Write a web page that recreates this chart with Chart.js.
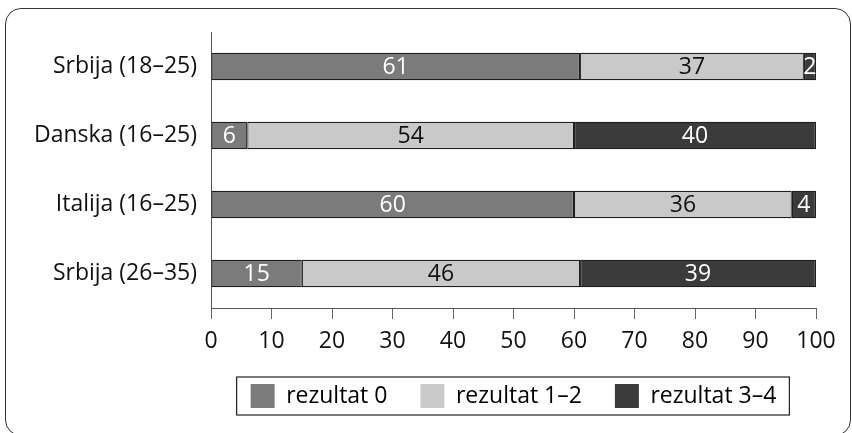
<!DOCTYPE html>
<html>
<head>
<meta charset="utf-8">
<script src="https://cdn.jsdelivr.net/npm/chart.js@4.4.0/dist/chart.umd.min.js"></script>
<style>
  html, body { margin: 0; padding: 0; background: #fff; overflow: hidden; }
  #wrap { position: relative; width: 852px; height: 433px; }
  #frame {
    position: absolute; left: 5px; top: 8px; width: 846px; height: 428px;
    border: 1.5px solid #333; border-radius: 16px; box-sizing: border-box;
  }
  canvas { position: absolute; left: 0; top: 0; }
</style>
</head>
<body>
<div id="wrap">
  <div id="frame"></div>
  <canvas id="myChart" width="852" height="433"></canvas>
</div>
<script>
// categories and series (percentages)
const categories = ["Srbija (18–25)", "Danska (16–25)", "Italija (16–25)", "Srbija (26–35)"];
const rezultat0 = [61, 6, 60, 15];
const rezultat12 = [37, 54, 36, 46];
const rezultat34 = [2, 40, 4, 39];
const seriesNames = ["rezultat 0", "rezultat 1–2", "rezultat 3–4"];
const xTicks = [0, 10, 20, 30, 40, 50, 60, 70, 80, 90, 100];

const fillColors = ["#7b7b7b", "#c9c9c9", "#3b3b3b"];
const labelColors = ["#ffffff", "#111111", "#ffffff"];
const fontFamily = "'Open Sans', 'Noto Sans', sans-serif";

// value labels inside each segment
const valueLabels = {
  id: "valueLabels",
  afterDatasetsDraw(chart) {
    const ctx = chart.ctx;
    ctx.save();
    ctx.font = "23px " + fontFamily;
    ctx.textAlign = "center";
    ctx.textBaseline = "middle";
    chart.data.datasets.forEach(function (ds, i) {
      const meta = chart.getDatasetMeta(i);
      meta.data.forEach(function (bar, j) {
        ctx.fillStyle = labelColors[i];
        ctx.fillText(ds.data[j], (bar.x + bar.base) / 2, bar.y + 1);
      });
    });
    ctx.restore();
  },
};

// border around the legend
const legendFrame = {
  id: "legendFrame",
  afterDraw(chart) {
    const boxes = chart.legend.legendHitBoxes;
    if (!boxes || !boxes.length) return;
    const first = boxes[0];
    const last = boxes[boxes.length - 1];
    const cy = first.top + first.height / 2;
    const ctx = chart.ctx;
    ctx.save();
    ctx.strokeStyle = "#222";
    ctx.lineWidth = 1.2;
    ctx.strokeRect(first.left - 14, cy - 19, last.left + last.width + 13 - (first.left - 14), 38);
    ctx.restore();
  },
};

function createChart() {
  const ctx = document.getElementById("myChart").getContext("2d");
  const data = [rezultat0, rezultat12, rezultat34];
  new Chart(ctx, {
    type: "bar",
    data: {
      labels: categories,
      datasets: data.map(function (d, i) {
        return {
          label: seriesNames[i],
          data: d,
          backgroundColor: fillColors[i],
          borderColor: "#1e1e1e",
          borderWidth: 1.2,
          borderSkipped: false,
          barPercentage: 0.4,
          categoryPercentage: 1,
        };
      }),
    },
    options: {
      indexAxis: "y",
      responsive: false,
      animation: false,
      layout: { padding: { left: 0, right: 36, top: 32, bottom: 15 } },
      plugins: {
        tooltip: { enabled: false },
        legend: {
          position: "bottom",
          fullSize: false,
          labels: {
            boxWidth: 24,
            boxHeight: 24,
            padding: 33,
            color: "#111",
            font: { family: fontFamily, size: 23 },
            useBorderRadius: false,
            generateLabels: function (chart) {
              return chart.data.datasets.map(function (ds, i) {
                return {
                  text: ds.label,
                  fillStyle: ds.backgroundColor,
                  strokeStyle: ds.backgroundColor,
                  lineWidth: 0,
                  datasetIndex: i,
                };
              });
            },
          },
        },
      },
      scales: {
        x: {
          stacked: true,
          min: 0,
          max: 100,
          afterBuildTicks: function (scale) {
            scale.ticks = xTicks.map(function (v) { return { value: v }; });
          },
          afterFit: function (scale) { scale.height = 43; },
          grid: {
            display: true,
            drawOnChartArea: false,
            drawTicks: true,
            tickLength: 11,
            color: "#666",
            lineWidth: 1,
          },
          border: { display: true, color: "#555", width: 1 },
          ticks: {
            padding: 9,
            color: "#111",
            maxRotation: 0,
            font: { family: fontFamily, size: 23 },
          },
        },
        y: {
          stacked: true,
          afterFit: function (scale) { scale.width = 211; },
          grid: { display: false, drawTicks: false },
          border: { display: true, color: "#555", width: 1 },
          ticks: {
            padding: 14,
            color: "#111",
            font: { family: fontFamily, size: 23 },
          },
        },
      },
    },
    plugins: [valueLabels, legendFrame],
  });
}

createChart();
</script>
</body>
</html>
